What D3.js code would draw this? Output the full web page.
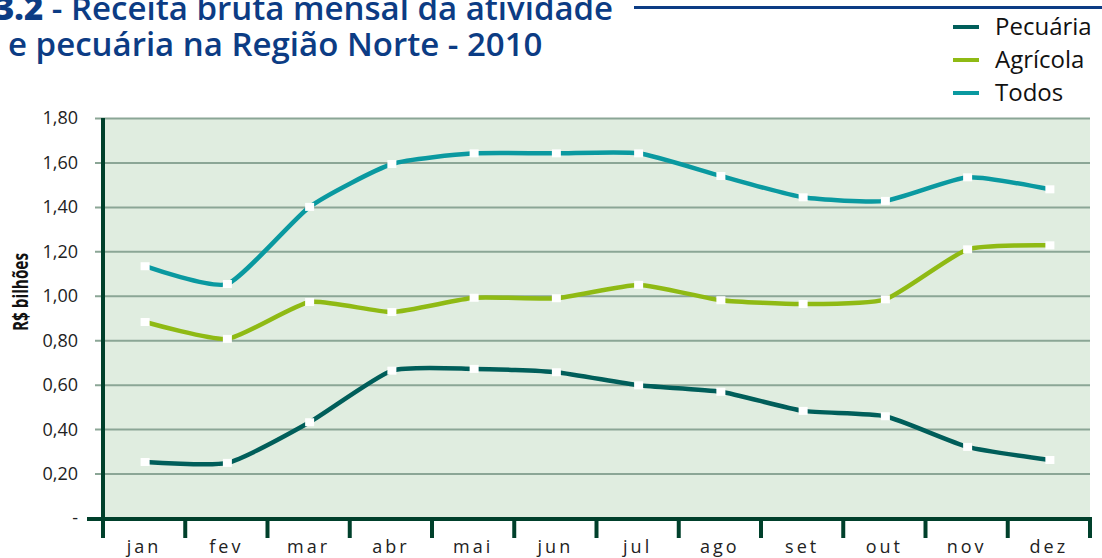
<!DOCTYPE html>
<html>
<head>
<meta charset="utf-8">
<script src="https://cdn.jsdelivr.net/npm/d3@7"></script>
<style>
  html, body { margin: 0; padding: 0; background: #fff; overflow: hidden; }
  svg { display: block; font-family: 'Open Sans', 'Noto Sans', sans-serif; }
</style>
</head>
<body>
<svg id="chart" width="1102" height="558"></svg>
<script>
// dados (R$ bilhões)
const months = ['jan', 'fev', 'mar', 'abr', 'mai', 'jun', 'jul', 'ago', 'set', 'out', 'nov', 'dez'];
const pecuaria = [0.252, 0.248, 0.431, 0.663, 0.671, 0.656, 0.597, 0.568, 0.482, 0.458, 0.320, 0.261];
const agricola = [0.882, 0.806, 0.972, 0.927, 0.991, 0.989, 1.049, 0.980, 0.963, 0.984, 1.209, 1.227];
const todos    = [1.133, 1.053, 1.400, 1.593, 1.641, 1.641, 1.641, 1.539, 1.443, 1.427, 1.533, 1.479];
const yTicks = [0, 0.2, 0.4, 0.6, 0.8, 1.0, 1.2, 1.4, 1.6, 1.8];
const seriesNames = ['Pecuária', 'Agrícola', 'Todos'];
const seriesColors = ['#005e5a', '#8fba14', '#0a99a0'];

const svg = d3.select('#chart');
const plotLeft = 103, plotRight = 1090, plotTop = 118, plotBottom = 518;
const axisColor = '#00402b';
const titleColor = '#0c3c84';

const x = d3.scaleBand().domain(months).range([plotLeft, plotRight]);
const y = d3.scaleLinear().domain([0, 1.8]).range([plotBottom, plotTop]);

// fundo da área de plotagem
svg.append('rect')
	.attr('x', plotLeft).attr('y', plotTop)
	.attr('width', plotRight - plotLeft).attr('height', plotBottom - plotTop)
	.attr('fill', '#e0ede0');

// linhas de grade
svg.append('g')
	.attr('transform', `translate(${plotLeft},0)`)
	.call(d3.axisLeft(y).tickValues(yTicks.slice(1)).tickSize(-(plotRight - plotLeft)).tickSizeOuter(0).tickFormat(''))
	.call(g => g.select('.domain').remove())
	.call(g => g.selectAll('line').attr('x1', -8).attr('stroke', '#8ba696').attr('stroke-width', 2));

// rótulos do eixo y
svg.append('g')
	.selectAll('text')
	.data(yTicks)
	.join('text')
	.attr('x', 78)
	.attr('y', d => y(d))
	.attr('dy', '0.36em')
	.attr('text-anchor', 'end')
	.attr('font-size', 18)
	.attr('fill', '#222')
	.text(d => d === 0 ? '-' : d3.format('.2f')(d).replace('.', ','));

// eixos
svg.append('line')
	.attr('x1', plotLeft).attr('x2', plotLeft)
	.attr('y1', plotTop).attr('y2', 536)
	.attr('stroke', axisColor).attr('stroke-width', 4);
svg.append('line')
	.attr('x1', 87).attr('x2', plotRight + 2)
	.attr('y1', plotBottom + 1).attr('y2', plotBottom + 1)
	.attr('stroke', axisColor).attr('stroke-width', 4);

const xTickPos = months.map(m => x(m)).concat([plotRight]);
svg.append('g')
	.selectAll('line')
	.data(xTickPos)
	.join('line')
	.attr('x1', d => d).attr('x2', d => d)
	.attr('y1', plotBottom).attr('y2', 538)
	.attr('stroke', axisColor).attr('stroke-width', 4);

// rótulos dos meses
svg.append('g')
	.selectAll('text')
	.data(months)
	.join('text')
	.attr('x', d => x(d) + x.bandwidth() / 2)
	.attr('y', 553)
	.attr('text-anchor', 'middle')
	.attr('font-size', 18)
	.attr('letter-spacing', 3)
	.attr('fill', '#222')
	.text(d => d);

// título do eixo y
svg.append('text')
	.attr('transform', 'translate(28,292) rotate(-90)')
	.attr('text-anchor', 'middle')
	.attr('font-size', 21)
	.attr('font-weight', 700)
	.attr('textLength', 78)
	.attr('lengthAdjust', 'spacingAndGlyphs')
	.attr('fill', '#111')
	.text('R$ bilhões');

// séries
const allSeries = [pecuaria, agricola, todos];
const line = d3.line()
	.x((d, i) => x(months[i]) + x.bandwidth() / 2 + 1)
	.y(d => y(d))
	.curve(d3.curveCardinal.tension(0.45));

allSeries.forEach(function (values, k) {
	svg.append('path')
		.attr('d', line(values))
		.attr('fill', 'none')
		.attr('stroke', seriesColors[k])
		.attr('stroke-width', 4.5);
});
allSeries.forEach(function (values) {
	svg.append('g')
		.selectAll('rect')
		.data(values)
		.join('rect')
		.attr('x', (d, i) => x(months[i]) + x.bandwidth() / 2 + 1 - 4.5)
		.attr('y', d => y(d) - 4)
		.attr('width', 9).attr('height', 8)
		.attr('fill', '#fff');
});

// título
const title = svg.append('text')
	.attr('x', -5).attr('y', 20)
	.attr('font-size', 33)
	.attr('font-weight', 600)
	.attr('fill', titleColor);
title.append('tspan').attr('font-weight', 800).text('3.2');
title.append('tspan').text(' - Receita bruta mensal da atividade');

svg.append('text')
	.attr('x', 8).attr('y', 56)
	.attr('font-size', 33)
	.attr('font-weight', 600)
	.attr('fill', titleColor)
	.text('e pecuária na Região Norte - 2010');

svg.append('line')
	.attr('x1', 634).attr('x2', 1102)
	.attr('y1', 7.5).attr('y2', 7.5)
	.attr('stroke', titleColor).attr('stroke-width', 3);

// legenda
const legend = svg.append('g')
	.selectAll('g')
	.data(seriesNames)
	.join('g')
	.attr('transform', (d, i) => `translate(953,${27 + i * 33})`);
legend.append('line')
	.attr('x1', 0).attr('x2', 26)
	.attr('stroke', (d, i) => seriesColors[i])
	.attr('stroke-width', 4);
legend.append('text')
	.attr('x', 42).attr('y', 8)
	.attr('font-size', 24)
	.attr('fill', '#111')
	.text(d => d);
</script>
</body>
</html>
